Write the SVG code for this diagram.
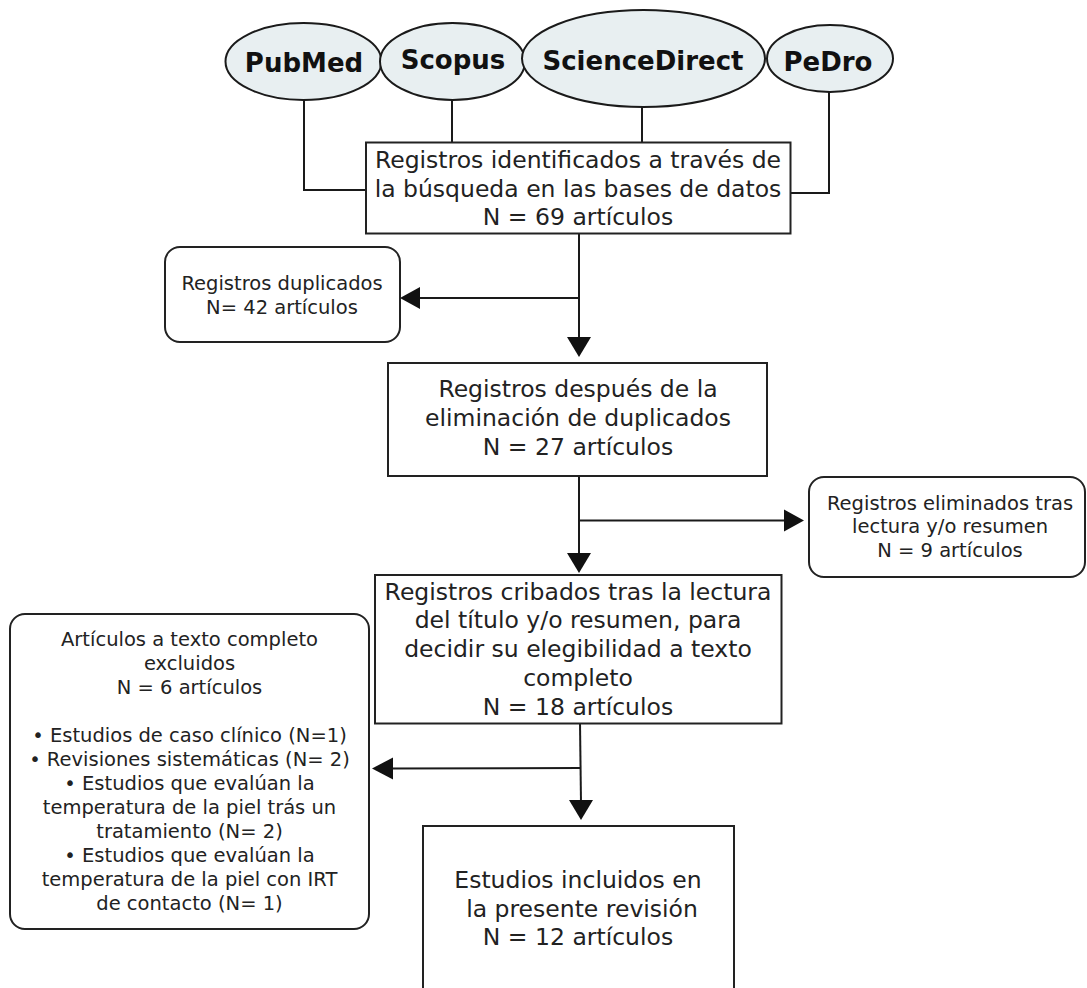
<svg xmlns="http://www.w3.org/2000/svg" width="1087" height="988" viewBox="0 0 1087 988">
<style>
.db{fill:#e8eff1;stroke:#1a1a1a;stroke-width:2}
.dbt{font-family:"DejaVu Sans",Verdana,sans-serif;font-weight:bold;font-size:26px;fill:#111;text-anchor:middle}
.box{fill:#fff;stroke:#222;stroke-width:2}
.big{font-family:"DejaVu Sans",Verdana,sans-serif;font-size:23.5px;fill:#222;text-anchor:middle}
.sm{font-family:"DejaVu Sans",Verdana,sans-serif;font-size:19.5px;fill:#222;text-anchor:middle}
.ln{fill:none;stroke:#1a1a1a;stroke-width:2}
.ah{fill:#111}
</style>
<rect width="1087" height="988" fill="#fff"/>
<g id="connectors">
<polyline class="ln" points="304,100 304,190 366,190"/>
<line class="ln" x1="452" y1="100" x2="452" y2="143"/>
<line class="ln" x1="642" y1="107" x2="642" y2="143"/>
<polyline class="ln" points="829,92 829,193 790,193"/>
<line class="ln" x1="579" y1="233" x2="579" y2="340"/>
<polygon class="ah" points="567,337 591,337 579,357"/>
<line class="ln" x1="579" y1="298" x2="418" y2="298"/>
<polygon class="ah" points="420,287 420,309 400,298"/>
<line class="ln" x1="579" y1="476" x2="579" y2="556"/>
<polygon class="ah" points="567,553 591,553 579,573"/>
<line class="ln" x1="579" y1="520.5" x2="786" y2="520.5"/>
<polygon class="ah" points="784,509.5 784,531.5 804,520.5"/>
<line class="ln" x1="580" y1="723" x2="581" y2="803"/>
<polygon class="ah" points="569,800 593,800 581,820"/>
<line class="ln" x1="580" y1="768" x2="390" y2="768.5"/>
<polygon class="ah" points="393,757.5 393,779.5 372,768.5"/>
</g>
<g id="pubmed"><ellipse class="db" cx="303.5" cy="61.5" rx="78" ry="38.5"/><text class="dbt" x="304" y="72">PubMed</text></g>
<g id="scopus"><ellipse class="db" cx="452.5" cy="61.5" rx="72.5" ry="38.5"/><text class="dbt" x="453" y="69">Scopus</text></g>
<g id="sciencedirect"><ellipse class="db" cx="643.5" cy="58.5" rx="121.5" ry="48.5"/><text class="dbt" x="643" y="70">ScienceDirect</text></g>
<g id="pedro"><ellipse class="db" cx="830" cy="58.5" rx="63" ry="33.5"/><text class="dbt" x="828" y="71">PeDro</text></g>
<g id="identificados"><rect class="box" x="366" y="142.5" width="424.5" height="91"/>
<text class="big" x="578" y="168">Registros identificados a través de</text>
<text class="big" x="578" y="196.5">la búsqueda en las bases de datos</text>
<text class="big" x="578" y="225">N = 69 artículos</text></g>
<g id="duplicados"><rect class="box" x="165" y="247" width="235" height="95" rx="15"/>
<text class="sm" x="282" y="290">Registros duplicados</text>
<text class="sm" x="282" y="313.5">N= 42 artículos</text></g>
<g id="despues"><rect class="box" x="388" y="363" width="379" height="113"/>
<text class="big" x="578" y="397">Registros después de la</text>
<text class="big" x="578" y="426">eliminación de duplicados</text>
<text class="big" x="578" y="455">N = 27 artículos</text></g>
<g id="eliminados"><rect class="box" x="809" y="477" width="276" height="100" rx="15"/>
<text class="sm" x="950" y="509.5">Registros eliminados tras</text>
<text class="sm" x="950" y="533">lectura y/o resumen</text>
<text class="sm" x="950" y="556.5">N = 9 artículos</text></g>
<g id="cribados"><rect class="box" x="375" y="575" width="406.5" height="148.5"/>
<text class="big" x="578" y="599.5">Registros cribados tras la lectura</text>
<text class="big" x="578" y="628">del título y/o resumen, para</text>
<text class="big" x="578" y="657">decidir su elegibilidad a texto</text>
<text class="big" x="578" y="686">completo</text>
<text class="big" x="578" y="715">N = 18 artículos</text></g>
<g id="excluidos"><rect class="box" x="10" y="614" width="359" height="315" rx="15"/>
<text class="sm" x="189.5" y="645.5">Artículos a texto completo</text>
<text class="sm" x="189.5" y="669.5">excluidos</text>
<text class="sm" x="189.5" y="693.5">N = 6 artículos</text>
<text class="sm" x="189.5" y="741.5">• Estudios de caso clínico (N=1)</text>
<text class="sm" x="189.5" y="765.5">• Revisiones sistemáticas (N= 2)</text>
<text class="sm" x="189.5" y="789.5">• Estudios que evalúan la</text>
<text class="sm" x="189.5" y="813.5">temperatura de la piel trás un</text>
<text class="sm" x="189.5" y="837.5">tratamiento (N= 2)</text>
<text class="sm" x="189.5" y="861.5">• Estudios que evalúan la</text>
<text class="sm" x="189.5" y="885.5">temperatura de la piel con IRT</text>
<text class="sm" x="189.5" y="909.5">de contacto (N= 1)</text></g>
<g id="incluidos"><rect class="box" x="423" y="826" width="311" height="170"/>
<text class="big" x="578" y="888">Estudios incluidos en</text>
<text class="big" x="582" y="916.5">la presente revisión</text>
<text class="big" x="578" y="945">N = 12 artículos</text></g>
</svg>
